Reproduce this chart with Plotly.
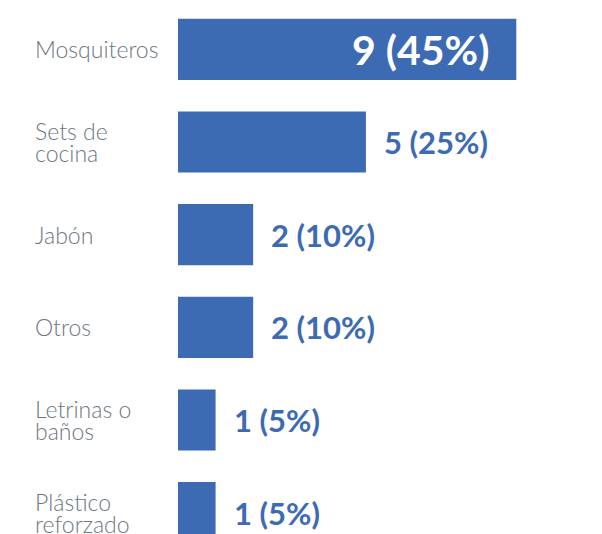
import plotly.graph_objects as go

categories = ["Mosquiteros", "Sets de cocina", "Jabón", "Otros", "Letrinas o baños", "Plástico reforzado"]
label_lines = [["Mosquiteros"], ["Sets de", "cocina"], ["Jabón"], ["Otros"], ["Letrinas o", "baños"], ["Plástico", "reforzado"]]
counts = [9, 5, 2, 2, 1, 1]
percents = [45, 25, 10, 10, 5, 5]

BAR = "#3D6BB3"
GRAY = "#6E767E"
FONT = "Lato"

fig = go.Figure(go.Bar(
    y=categories, x=counts, orientation="h",
    marker=dict(color=BAR, line=dict(width=0)),
    width=0.66, hoverinfo="skip",
))

ann = []
max_c = max(counts)
for cat, lines, c, p in zip(categories, label_lines, counts, percents):
    n = len(lines)
    for i, ln in enumerate(lines):
        shift = (n - 1) * 11 - i * 22
        ann.append(dict(x=0, xref="paper", y=cat, yref="y", text=ln, showarrow=False,
                        xanchor="left", yanchor="middle", xshift=-145, yshift=shift,
                        font=dict(family=FONT, size=23, color=GRAY, weight=300)))
    txt = f"{c} ({p}%)"
    if c == max_c:
        ann.append(dict(x=c, y=cat, text=f"<b>{txt}</b>", showarrow=False,
                        xanchor="right", yanchor="middle", xshift=-25,
                        font=dict(family=FONT, size=41, color="white")))
    else:
        ann.append(dict(x=c, y=cat, text=f"<b>{txt}</b>", showarrow=False,
                        xanchor="left", yanchor="middle", xshift=16,
                        font=dict(family=FONT, size=31, color=BAR)))

fig.update_layout(
    width=602, height=534,
    margin=dict(l=178, r=0, t=3, b=0),
    paper_bgcolor="white", plot_bgcolor="white",
    showlegend=False,
    annotations=ann,
    xaxis=dict(range=[0, 11.28], visible=False, fixedrange=True),
    yaxis=dict(range=[5.23, -0.5], showticklabels=False, showgrid=False,
               zeroline=False, showline=False, ticks="", fixedrange=True),
)

fig.write_html("out.html", config={"displayModeBar": False},
               post_script="document.body.style.margin='0';")
